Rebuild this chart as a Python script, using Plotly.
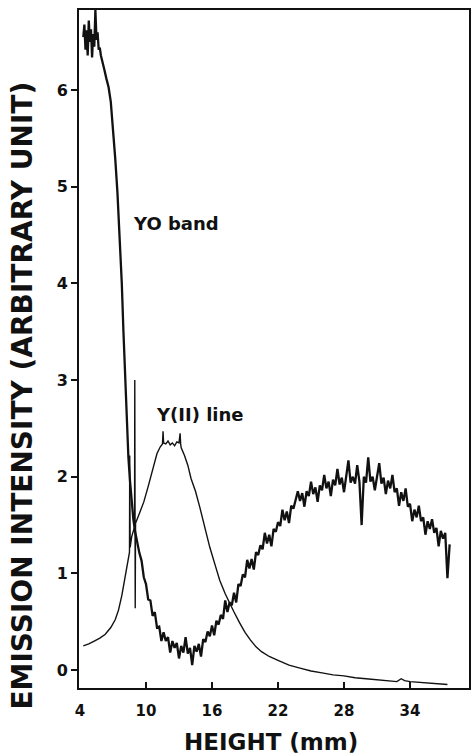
import plotly.graph_objects as go

# YO band emission (noisy trace), height in mm vs intensity
yo_x = [4.3, 4.4, 4.5, 4.6, 4.7, 4.8, 4.9, 5.0, 5.1, 5.2, 5.3, 5.4, 5.5, 5.6, 5.7, 5.8, 5.9, 6.0,
        6.2, 6.4, 6.6, 6.8, 7.0, 7.2, 7.4, 7.6, 7.8, 7.95, 8.1, 8.25, 8.4, 8.55, 8.7, 8.85, 9.0, 9.2, 9.4,
        9.6, 9.8, 10.0, 10.2, 10.4, 10.6, 10.8, 11.0, 11.2, 11.4, 11.6, 11.8, 12.0, 12.2, 12.4, 12.6,
        12.8, 13.0, 13.2, 13.4, 13.6, 13.8, 14.0, 14.2, 14.4, 14.6, 14.8, 15.0, 15.2, 15.4, 15.6, 15.8,
        16.0, 16.2, 16.4, 16.6, 16.8, 17.0, 17.2, 17.4, 17.6, 17.8, 18.0, 18.2, 18.4, 18.6, 18.8, 19.0,
        19.2, 19.4, 19.6, 19.8, 20.0, 20.2, 20.4, 20.6, 20.8, 21.0, 21.2, 21.4, 21.6, 21.8, 22.0, 22.2,
        22.4, 22.6, 22.8, 23.0, 23.2, 23.4, 23.6, 23.8, 24.0, 24.2, 24.4, 24.6, 24.8, 25.0, 25.2, 25.4,
        25.6, 25.8, 26.0, 26.2, 26.4, 26.6, 26.8, 27.0, 27.2, 27.4, 27.6, 27.8, 28.0, 28.2, 28.4, 28.6,
        28.8, 29.0, 29.2, 29.4, 29.6, 29.8, 30.0, 30.2, 30.4, 30.6, 30.8, 31.0, 31.2, 31.4, 31.6, 31.8,
        32.0, 32.2, 32.4, 32.6, 32.8, 33.0, 33.2, 33.4, 33.6, 33.8, 34.0, 34.2, 34.4, 34.6, 34.8, 35.0,
        35.2, 35.4, 35.6, 35.8, 36.0, 36.2, 36.4, 36.6, 36.8, 37.0, 37.2, 37.4, 37.6]
yo_y = [6.55, 6.68, 6.42, 6.62, 6.36, 6.72, 6.50, 6.63, 6.34, 6.58, 6.45, 6.83, 6.52, 6.60, 6.42, 6.44, 6.36, 6.32,
        6.22, 6.12, 6.03, 5.88, 5.62, 5.30, 4.95, 4.50, 4.00, 3.50, 3.00, 2.55, 2.20, 1.95, 1.72, 1.56, 1.44, 1.32, 1.21,
        1.13, 0.96, 0.89, 0.73, 0.72, 0.56, 0.60, 0.44, 0.45, 0.30, 0.39, 0.30, 0.34, 0.18, 0.30, 0.23,
        0.28, 0.12, 0.25, 0.18, 0.34, 0.17, 0.23, 0.05, 0.25, 0.19, 0.27, 0.14, 0.32, 0.29, 0.40, 0.35,
        0.46, 0.36, 0.51, 0.47, 0.57, 0.53, 0.72, 0.60, 0.70, 0.67, 0.80, 0.70, 0.89, 0.87, 0.99, 0.96,
        1.14, 1.05, 1.15, 1.04, 1.22, 1.19, 1.29, 1.25, 1.42, 1.31, 1.40, 1.28, 1.46, 1.43, 1.53, 1.49,
        1.66, 1.55, 1.64, 1.52, 1.70, 1.67, 1.76, 1.85, 1.75, 1.83, 1.69, 1.85, 1.80, 1.95, 1.82, 1.89,
        1.74, 1.91, 1.86, 2.02, 1.88, 1.95, 1.80, 1.97, 1.91, 2.08, 1.92, 1.99, 1.84, 1.99, 2.17, 1.94,
        2.00, 1.93, 2.12, 1.95, 1.50, 2.00, 1.94, 2.20, 1.95, 2.00, 1.86, 2.00, 2.14, 1.93, 1.99, 1.82,
        1.96, 1.88, 2.02, 1.84, 1.88, 1.70, 1.84, 1.75, 1.88, 1.69, 1.72, 1.54, 1.66, 1.58, 1.70, 1.54,
        1.58, 1.40, 1.54, 1.46, 1.56, 1.42, 1.47, 1.28, 1.44, 1.36, 1.42, 0.95, 1.30]

# Y(II) line emission (smooth trace)
yii_x = [4.3, 4.8, 5.3, 5.8, 6.3, 6.8, 7.2, 7.5, 7.8, 8.0, 8.2, 8.4, 8.5, 8.52, 8.56, 8.7, 8.85,
         8.96, 8.98, 9.02, 9.05, 9.4, 9.8, 10.2, 10.6, 11.0, 11.3, 11.5, 11.55, 11.6, 11.8, 12.0,
         12.2, 12.4, 12.6, 12.8, 13.0, 13.1, 13.15, 13.2, 13.5, 13.8, 14.1, 14.5, 14.9, 15.4, 15.8,
         16.3, 16.7, 17.2, 17.6, 18.0, 18.5, 19.0, 19.5, 20.0, 20.5, 21.2, 22.0, 23.0, 24.0, 25.0,
         26.0, 27.0, 28.0, 29.0, 30.0, 31.0, 32.0, 32.8, 33.2, 33.5, 34.0, 35.0, 36.0, 37.4]
yii_y = [0.25, 0.27, 0.30, 0.33, 0.37, 0.44, 0.52, 0.62, 0.77, 0.90, 1.04, 1.16, 1.22, 2.22, 1.27, 1.38, 1.44,
         1.48, 3.00, 0.64, 1.52, 1.62, 1.74, 1.90, 2.08, 2.24, 2.31, 2.34, 2.47, 2.35, 2.34, 2.37,
         2.33, 2.35, 2.32, 2.36, 2.35, 2.45, 2.34, 2.30, 2.22, 2.12, 1.98, 1.85, 1.68, 1.45, 1.27,
         1.08, 0.93, 0.79, 0.69, 0.60, 0.49, 0.39, 0.31, 0.24, 0.19, 0.14, 0.10, 0.05, 0.02, -0.01,
         -0.03, -0.05, -0.06, -0.08, -0.09, -0.10, -0.11, -0.12, -0.09, -0.11, -0.12, -0.13, -0.14, -0.15]

x_ticks = [4, 10, 16, 22, 28, 34]
y_ticks = [0, 1, 2, 3, 4, 5, 6]

labels = [("YO band", 12.75, 4.62), ("Y(II) line", 14.9, 2.64)]

FONT = "DejaVu Sans"

fig = go.Figure()
fig.add_trace(go.Scatter(x=yii_x, y=yii_y, mode="lines",
                         line=dict(color="#111111", width=1.4), hoverinfo="skip"))
fig.add_trace(go.Scatter(x=yo_x, y=yo_y, mode="lines",
                         line=dict(color="#111111", width=2.3), hoverinfo="skip"))

for text, lx, ly in labels:
    fig.add_annotation(x=lx, y=ly, text=text, showarrow=False,
                       xanchor="center", yanchor="middle",
                       font=dict(family=FONT, size=18, color="#111111", weight="bold"))

fig.add_annotation(xref="paper", yref="paper", x=-0.145, y=0.432,
                   text="EMISSION INTENSITY (ARBITRARY UNIT)", textangle=-90,
                   showarrow=False, xanchor="center", yanchor="middle",
                   font=dict(family=FONT, size=28, color="#111111", weight="bold"))
fig.add_annotation(xref="paper", yref="paper", x=0.492, y=-0.08,
                   text="HEIGHT (mm)", showarrow=False,
                   xanchor="center", yanchor="middle",
                   font=dict(family=FONT, size=23, color="#111111", weight="bold"))

fig.update_layout(
    width=472, height=755,
    margin=dict(l=79, r=1, t=10, b=67),
    paper_bgcolor="white", plot_bgcolor="white",
    showlegend=False,
)
fig.update_xaxes(
    range=[3.91, 39.36], tickvals=x_ticks, ticks="inside", ticklen=6, tickwidth=1.5,
    tickcolor="#111111", showline=True, linecolor="#111111", linewidth=2, mirror=True,
    showgrid=False, zeroline=False, ticklabelstandoff=8,
    tickfont=dict(family=FONT, size=15, color="#111111", weight="bold"),
)
fig.update_yaxes(
    range=[-0.186, 6.83], tickvals=y_ticks, ticks="outside", ticklen=6, tickwidth=1.5,
    tickcolor="#111111", showline=True, linecolor="#111111", linewidth=2, mirror=True,
    showgrid=False, zeroline=False,
    tickfont=dict(family=FONT, size=16, color="#111111", weight="bold"),
)

fig.write_html("out.html")
